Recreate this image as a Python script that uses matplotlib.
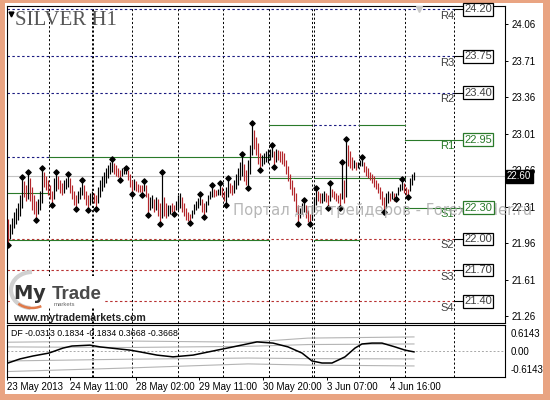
import matplotlib
matplotlib.use("Agg")
import matplotlib.pyplot as plt
from matplotlib.patches import Rectangle, Arc
import numpy as np

plt.rcParams['font.family'] = ['Liberation Sans', 'DejaVu Sans']

# ---- price bars (H1, 23 May - 5 Jun 2013) ----
hi = [22.19, 22.14, 22.20, 22.26, 22.30, 22.34, 22.42, 22.58, 22.55, 22.52,
      22.63, 22.58, 22.50, 22.42, 22.36, 22.38, 22.46, 22.67, 22.64, 22.60,
      22.56, 22.52, 22.46, 22.58, 22.63, 22.60, 22.56, 22.54, 22.56, 22.58,
      22.61, 22.58, 22.52, 22.46, 22.42, 22.46, 22.50, 22.55, 22.52, 22.46,
      22.42, 22.44, 22.46, 22.44, 22.42, 22.50, 22.56, 22.60, 22.64, 22.68,
      22.71, 22.74, 22.75, 22.73, 22.71, 22.68, 22.66, 22.68, 22.69, 22.67,
      22.66, 22.62, 22.56, 22.57, 22.55, 22.53, 22.52, 22.52, 22.54, 22.52,
      22.44, 22.40, 22.42, 22.38, 22.40, 22.38, 22.34, 22.63, 22.40, 22.34,
      22.32, 22.32, 22.34, 22.32, 22.36, 22.42, 22.44, 22.40, 22.34, 22.30,
      22.26, 22.24, 22.28, 22.33, 22.36, 22.39, 22.42, 22.38, 22.34, 22.36,
      22.42, 22.46, 22.50, 22.48, 22.47, 22.48, 22.52, 22.50, 22.46, 22.50,
      22.57, 22.54, 22.52, 22.56, 22.62, 22.68, 22.74, 22.80, 22.72, 22.66,
      22.76, 22.90, 23.10, 23.04, 22.98, 22.92, 22.82, 22.80, 22.82, 22.84,
      22.86, 22.86, 22.89, 22.84, 22.86, 22.85, 22.84, 22.84, 22.82, 22.76,
      22.70, 22.62, 22.56, 22.50, 22.44, 22.32, 22.30, 22.34, 22.36, 22.32,
      22.28, 22.24, 22.32, 22.40, 22.48, 22.46, 22.44, 22.44, 22.46, 22.44,
      22.42, 22.52, 22.48, 22.46, 22.44, 22.42, 22.44, 22.72, 22.56, 22.95,
      22.90, 22.84, 22.78, 22.76, 22.74, 22.74, 22.76, 22.77, 22.74, 22.70,
      22.68, 22.64, 22.62, 22.60, 22.56, 22.54, 22.50, 22.46, 22.40, 22.44,
      22.46, 22.44, 22.46, 22.44, 22.44, 22.50, 22.53, 22.56, 22.54, 22.50,
      22.48, 22.58, 22.62, 22.64]
lo = [21.95, 22.00, 22.05, 22.10, 22.14, 22.18, 22.22, 22.30, 22.40, 22.36,
      22.38, 22.36, 22.28, 22.24, 22.19, 22.24, 22.28, 22.34, 22.50, 22.47,
      22.42, 22.38, 22.34, 22.38, 22.46, 22.48, 22.44, 22.42, 22.44, 22.48,
      22.50, 22.44, 22.38, 22.32, 22.30, 22.34, 22.38, 22.42, 22.38, 22.32,
      22.29, 22.32, 22.35, 22.34, 22.30, 22.34, 22.40, 22.46, 22.50, 22.54,
      22.58, 22.62, 22.64, 22.62, 22.60, 22.59, 22.58, 22.60, 22.62, 22.62,
      22.56, 22.50, 22.44, 22.47, 22.46, 22.45, 22.45, 22.43, 22.46, 22.40,
      22.24, 22.28, 22.30, 22.26, 22.28, 22.22, 22.15, 22.20, 22.22, 22.20,
      22.22, 22.24, 22.26, 22.25, 22.28, 22.28, 22.30, 22.26, 22.22, 22.18,
      22.17, 22.16, 22.20, 22.24, 22.28, 22.30, 22.32, 22.26, 22.22, 22.26,
      22.32, 22.38, 22.40, 22.40, 22.41, 22.42, 22.42, 22.40, 22.36, 22.34,
      22.40, 22.44, 22.42, 22.44, 22.48, 22.52, 22.56, 22.60, 22.55, 22.52,
      22.50, 22.62, 22.80, 22.86, 22.80, 22.72, 22.67, 22.70, 22.72, 22.74,
      22.73, 22.76, 22.78, 22.70, 22.74, 22.76, 22.74, 22.72, 22.70, 22.62,
      22.55, 22.48, 22.42, 22.36, 22.26, 22.15, 22.20, 22.24, 22.26, 22.20,
      22.16, 22.15, 22.18, 22.26, 22.32, 22.36, 22.34, 22.34, 22.36, 22.35,
      22.31, 22.36, 22.40, 22.38, 22.36, 22.34, 22.31, 22.38, 22.34, 22.40,
      22.70, 22.68, 22.66, 22.68, 22.66, 22.68, 22.70, 22.70, 22.64, 22.60,
      22.58, 22.56, 22.54, 22.50, 22.48, 22.44, 22.38, 22.32, 22.27, 22.30,
      22.34, 22.36, 22.38, 22.36, 22.39, 22.42, 22.46, 22.47, 22.44, 22.42,
      22.41, 22.46, 22.52, 22.56]
bar_dir = ("d" "uuuuuuu" "dd" "u" "dddd" "uuu" "ddddd" "uu" "ddd" "uuu" "dddd" "uuu"
           "ddd" "uu" "dd" "uuuuuuuu" "dddd" "uuu" "ddd" "u" "dddd" "u" "dd" "uu" "d"
           "u" "dd" "u" "dd" "uu" "dd" "uuu" "ddddd" "uuuuu" "dd" "uuuu" "dd" "uu" "dd"
           "uu" "dd" "uuuuu" "dd" "uuu" "dddd" "uuuuuu" "d" "u" "ddddddddddd" "uuu"
           "ddd" "uuu" "dd" "uu" "dd" "u" "ddddd" "u" "d" "u" "ddd" "u" "d" "uuu"
           "ddddddddddd" "uu" "d" "u" "d" "uuuu" "ddd" "uuu")
frac_up = [7, 10, 17, 24, 30, 37, 52, 59, 68, 77, 96, 102, 106, 110, 117, 122,
           132, 148, 154, 161, 167, 169, 177, 197]
frac_dn = [0, 14, 22, 34, 40, 44, 56, 62, 67, 70, 76, 83, 91, 98, 109, 120, 126,
           133, 145, 151, 160, 166, 188, 194, 200]
last_price = 22.60

# day separators (bar index)
day_sep = [20.7, 41.9, 42.6, 61.8, 84.8, 107.7, 130.7, 151.9, 152.9, 175.7, 198.5, 223]

# current day pivot levels
lvl_names = ["R4", "R3", "R2", "R1", "S1", "S2", "S3", "S4"]
lvl_vals = [24.20, 23.75, 23.40, 22.95, 22.30, 22.00, 21.70, 21.40]

# previous days' levels: (start, end, price, kind)
old_start = [-0.5, -0.5, -0.5, 20.7, 20.7, 130.7, 130.7, 152.9, 152.9, 152.9, 175.7, 175.7]
old_end = [20.5, 20.5, 20.5, 130.5, 130.5, 151.7, 151.7, 175.5, 175.5, 175.5, 198.3, 198.3]
old_price = [22.78, 22.44, 21.99, 22.78, 21.99, 23.09, 22.58, 23.09, 22.58, 21.99, 23.09, 22.58]
old_kind = ["r", "g", "g", "g", "g", "g", "g", "r", "g", "g", "g", "g"]

# DF oscillator
df_x = [0, 6, 12.5, 20.5, 27.5, 32, 41, 46, 61, 66, 74.5, 82.5, 92.5, 102.5, 112.5,
        124.5, 132.5, 140, 147, 152, 157, 162, 168.5, 173.5, 177, 182, 187, 193.5,
        198.5, 203]
df_y = [-0.41, -0.27, -0.17, -0.07, 0.10, 0.17, 0.20, 0.14, 0.03, -0.03, -0.14,
        -0.20, -0.14, 0.0, 0.14, 0.31, 0.27, 0.14, -0.07, -0.34, -0.41, -0.41,
        -0.20, 0.10, 0.24, 0.27, 0.27, 0.14, 0.03, -0.03]
band_x = [0, 60, 120, 150, 203]
band_up2 = [0.30, 0.34, 0.30, 0.44, 0.48]
band_up1 = [0.14, 0.12, 0.16, 0.22, 0.24]
band_dn1 = [-0.34, -0.28, -0.24, -0.26, -0.27]
band_dn2 = [-0.70, -0.58, -0.44, -0.48, -0.51]

time_pos = [-0.5, 31, 63.8, 95.5, 127.5, 159.5, 191]
time_lbl = ["23 May 2013", "24 May 11:00", "28 May 02:00", "29 May 11:00",
            "30 May 20:00", "3 Jun 07:00", "4 Jun 16:00"]
price_ticks = [24.06, 23.71, 23.36, 23.01, 22.66, 22.31, 21.96, 21.61, 21.26]

W, H = 550, 400
GREEN = '#2a7a2a'
NAVY = '#1a1a80'
RED = '#b83030'
DASH = (0, (2.2, 2.2))


def fbox(x0, y0, x1, y1):
    return [x0 / W, 1 - y1 / H, (x1 - x0) / W, (y1 - y0) / H]


fig = plt.figure(figsize=(5.5, 4), dpi=100, facecolor='#e9a482')
fig.patches.append(Rectangle((5 / W, 1 - 394 / H), 538 / W, 391 / H, transform=fig.transFigure,
                             facecolor='white', edgecolor='none', zorder=-5))

ax = fig.add_axes(fbox(7, 6, 505, 323))
ax2 = fig.add_axes(fbox(7, 325, 505, 377), sharex=ax)
XL = (-0.5, 248.5)

# ---- price panel ----
idx = np.arange(len(hi))
cols = ['black' if c == 'u' else '#b3262b' for c in bar_dir]
ax.vlines(idx, lo, hi, colors=cols, linewidth=0.85, zorder=3)
ax.scatter(frac_up, np.array(hi)[frac_up] + 0.012, marker='D', s=7, color='black', zorder=4)
ax.scatter(frac_dn, np.array(lo)[frac_dn] - 0.012, marker='D', s=7, color='black', zorder=4)

ax.axhline(last_price, color='#c4c4c4', linewidth=0.8, zorder=1)
for s in day_sep:
    ax.axvline(s, color='black', linewidth=0.7, linestyle=DASH, zorder=1)
    ax2.axvline(s, color='black', linewidth=0.7, linestyle=DASH, zorder=1)

for a, b, p, k in zip(old_start, old_end, old_price, old_kind):
    if k == 'g':
        ax.plot([a, b], [p, p], color=GREEN, linewidth=0.8, zorder=2)
    else:
        ax.plot([a, b], [p, p], color=NAVY, linewidth=0.8, linestyle=DASH, zorder=2)

for name, v in zip(lvl_names, lvl_vals):
    if name in ("R1", "S1"):
        ax.plot([198.5, 223], [v, v], color=GREEN, linewidth=0.8, zorder=2)
        c, tc = GREEN, GREEN
    else:
        lc = NAVY if name.startswith("R") else RED
        ax.plot([-0.5, 223], [v, v], color=lc, linewidth=0.8, linestyle=DASH, zorder=1)
        c, tc = 'black', '#404040'
    ax.plot([223, 227.5], [v, v], color=c, linewidth=0.8, zorder=2)
    ax.text(223, v - 0.015, name, ha='right', va='top', fontsize=8, color=tc, zorder=5)
    ax.text(228.2, v, f"{v:.2f}", ha='left', va='center', fontsize=8, color=tc, zorder=7,
            bbox=dict(boxstyle='square,pad=0.12', fc='white', ec=c, lw=0.9))

ax.set_xlim(*XL)
ax.set_ylim(21.193, 24.2326)
ax.yaxis.tick_right()
ax.set_yticks(price_ticks)
ax.set_yticklabels([f"{t:.2f}" for t in price_ticks])
ax.tick_params(axis='y', length=2.2, width=0.7, pad=2.2, labelsize=7, colors='black')
ax.tick_params(axis='x', which='both', bottom=False, labelbottom=False)
for sp in ax.spines.values():
    sp.set_linewidth(0.8)

ax.text(1.004, last_price, "22.60", transform=ax.get_yaxis_transform(), ha='left', va='center',
        fontsize=7, color='white', zorder=8, clip_on=False,
        bbox=dict(boxstyle='square,pad=0.15', fc='black', ec='black'))

# watermark
ax.text(112.5, 22.27, "Портал для трейдеров - ForexTrader.ru", ha='left', va='center',
        fontsize=10.6, color='#a9a9a9', alpha=0.85, zorder=6, clip_on=False,
        family=['DejaVu Sans'])

# title
ax.text(0.016, 0.985, "SILVER H1", transform=ax.transAxes, ha='left', va='top',
        fontsize=15, color='#555555', family=['Liberation Serif'], zorder=6)
ax.plot([0.009], [0.975], transform=ax.transAxes, marker='v', ms=3.5, color='black', zorder=6)
ax.plot([205.5], [24.205], marker='v', ms=5, color='#c8c8c8', zorder=5)

# ---- DF panel ----
ax2.axhline(0, color='#a8a8a8', linewidth=0.7, linestyle=(0, (2, 2)), zorder=1)
for b in (band_up2, band_up1, band_dn1, band_dn2):
    ax2.plot(band_x, b, color='#b4b4b4', linewidth=0.8, zorder=2)
ax2.plot(df_x, df_y, color='black', linewidth=1.1, zorder=3)
ax2.set_ylim(-0.887, 0.887)
ax2.set_xlim(*XL)
ax2.yaxis.tick_right()
ax2.set_yticks([0.6143, 0.0, -0.6143])
ax2.set_yticklabels(["0.6143", "0.00", "-0.6143"])
ax2.tick_params(axis='y', length=0, pad=4.3, labelsize=7)
ax2.set_xticks(time_pos)
ax2.set_xticklabels(time_lbl, ha='left')
ax2.tick_params(axis='x', length=2.2, width=0.7, pad=1.5, labelsize=7)
for sp in ax2.spines.values():
    sp.set_linewidth(0.8)
ax2.text(0.008, 0.93, "DF -0.0313 0.1834 -0.1834 0.3668 -0.3668", transform=ax2.transAxes,
         ha='left', va='top', fontsize=6.3, color='black')

# ---- logo ----
ov = fig.add_axes([0, 0, 1, 1], zorder=5)
ov.set_xlim(0, W)
ov.set_ylim(H, 0)
ov.axis('off')
ov.patch.set_alpha(0)
ov.add_patch(Rectangle((11, 276), 92, 31, facecolor='white', edgecolor='none'))
ov.add_patch(Arc((32, 290), 42, 36, theta1=95, theta2=270, color='#d0d0d0', lw=3))
ov.add_patch(Arc((32, 290), 42, 36, theta1=60, theta2=135, color='#e07a4a', lw=1.8))
ov.text(13, 299, "M", fontsize=14, fontweight='bold', color='#333333', va='baseline',
        family=['DejaVu Sans'])
ov.text(32.5, 299, "y", fontsize=14, fontweight='bold', color='#333333', va='baseline',
        family=['DejaVu Sans'])
ov.text(52, 299, "Trade", fontsize=13.5, fontweight='bold', color='#4a4a4a', va='baseline')
ov.text(54, 306, "markets", fontsize=4.3, color='#666666', va='baseline')
ov.text(13, 321, "www.mytrademarkets.com", fontsize=7.6, fontweight='bold', color='#222222',
        va='baseline')

fig.savefig("out.png", dpi=100, facecolor=fig.get_facecolor())
